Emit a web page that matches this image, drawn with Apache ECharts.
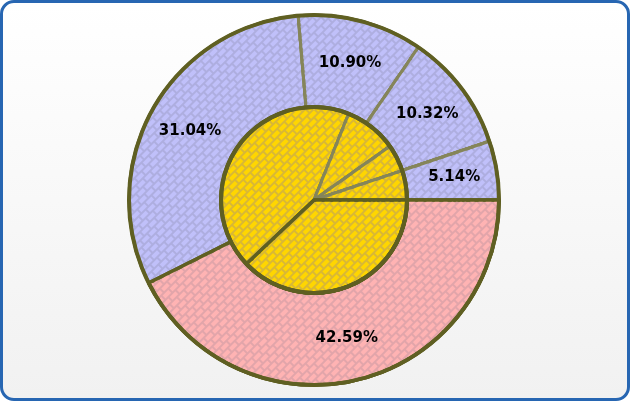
<!DOCTYPE html>
<html>
<head>
<meta charset="utf-8">
<script src="https://cdn.jsdelivr.net/npm/echarts@6/dist/echarts.min.js"></script>
<style>
  html, body { margin: 0; padding: 0; background: #ffffff; }
  #frame {
    position: absolute; left: 0; top: 0; width: 630px; height: 401px;
    box-sizing: border-box; border: 3px solid #2766b2; border-radius: 14px;
    background: linear-gradient(to bottom, #ffffff 0%, #f1f1f1 100%);
  }
  #chart { position: absolute; left: 0; top: 0; width: 630px; height: 401px; }
</style>
</head>
<body>
<div id="frame"></div>
<div id="chart"></div>
<script>
// Outer ring (clockwise from 3 o'clock)
const outerNames  = ['A', 'B', 'C', 'D', 'E'];
const outerValues = [42.59, 31.04, 10.90, 10.32, 5.14];
// Inner pie (clockwise from 3 o'clock)
const innerNames  = ['a', 'b', 'c', 'd', 'e'];
const innerValues = [37.9, 43.1, 9.1, 4.7, 5.1];

const darkLine = '#5f5f22';
const lightLine = '#85855a';

function brick(base, brickColor) {
  return {
    color: base,
    decal: {
      symbol: 'rect', symbolSize: 1, color: brickColor,
      dashArrayX: [[8, 1.5], [4, 1.5, 4, 0]], dashArrayY: [3.5, 1.2],
      rotation: -Math.PI / 4
    }
  };
}
const pinkStyle = brick('#e2a5aa', '#ffb3b3');
const blueStyle = brick('#aeaee0', '#c0c0fa');
const yellowStyle = brick('#d9b835', '#ffd600');

// reorder so the first slice is drawn last (its dark borders on top)
function rotateFirstLast(names, values, firstStyle, otherStyle, firstBorder, otherBorder) {
  const total = values.reduce((a, b) => a + b, 0);
  const data = [];
  for (let i = 1; i < values.length; i++) {
    data.push({ name: names[i], value: values[i],
      itemStyle: Object.assign({}, otherStyle, { borderColor: otherBorder, borderWidth: 3 }) });
  }
  data.push({ name: names[0], value: values[0],
    itemStyle: Object.assign({}, firstStyle, { borderColor: firstBorder, borderWidth: 3.5 }) });
  const startAngle = 360 - values[0] / total * 360;
  return { data, startAngle };
}

const outer = rotateFirstLast(outerNames, outerValues, pinkStyle, blueStyle, darkLine, lightLine);
const inner = rotateFirstLast(innerNames, innerValues, yellowStyle, yellowStyle, darkLine, lightLine);

const chart = echarts.init(document.getElementById('chart'), null, { renderer: 'canvas' });
chart.setOption({
  animation: false,
  backgroundColor: 'transparent',
  series: [
    {
      type: 'pie', center: [314, 200], radius: [93, 185],
      startAngle: outer.startAngle, clockwise: true, silent: true,
      avoidLabelOverlap: false,
      label: {
        show: true, position: 'inside', color: '#000',
        fontFamily: 'DejaVu Sans', fontWeight: 'bold', fontSize: 15,
        formatter: p => p.value.toFixed(2) + '%'
      },
      labelLine: { show: false },
      data: outer.data
    },
    {
      type: 'pie', center: [314, 200], radius: [0, 93],
      startAngle: inner.startAngle, clockwise: true, silent: true,
      label: { show: false }, labelLine: { show: false },
      data: inner.data
    },
    {
      type: 'pie', center: [314, 200], radius: [93, 185], silent: true,
      label: { show: false }, labelLine: { show: false },
      itemStyle: { color: 'rgba(0,0,0,0)', borderColor: darkLine, borderWidth: 4 },
      data: [{ value: 1 }]
    },
    {
      type: 'pie', center: [314, 200], radius: [0, 93], silent: true,
      label: { show: false }, labelLine: { show: false },
      itemStyle: { color: 'rgba(0,0,0,0)', borderColor: darkLine, borderWidth: 4 },
      data: [{ value: 1 }]
    }
  ]
});
</script>
</body>
</html>
